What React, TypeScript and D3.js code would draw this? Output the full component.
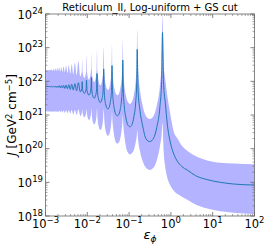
import React from "react";
import * as d3 from "d3";

// log10(epsilon_phi)
const logEps = [
  -3.0, -2.957, -2.94, -2.923, -2.906, -2.888, -2.869, -2.849, -2.829, -2.809,
  -2.788, -2.766, -2.743, -2.72, -2.696, -2.672, -2.647, -2.622, -2.595, -2.567,
  -2.537, -2.507, -2.475, -2.443, -2.408, -2.373, -2.335, -2.297, -2.255, -2.213,
  -2.168, -2.131, -2.122, -2.112, -2.071, -2.029, -2.019, -2.007, -1.961, -1.929,
  -1.911, -1.902, -1.892, -1.872, -1.835, -1.798, -1.778, -1.768, -1.756, -1.732,
  -1.688, -1.644, -1.62, -1.608, -1.593, -1.563, -1.509, -1.479, -1.454, -1.429,
  -1.416, -1.409, -1.4, -1.383, -1.351, -1.319, -1.28, -1.241, -1.209, -1.177,
  -1.16, -1.151, -1.139, -1.117, -1.075, -1.032, -0.981, -0.929, -0.885, -0.841,
  -0.818, -0.806, -0.785, -0.746, -0.671, -0.595, -0.505, -0.414, -0.338, -0.262,
  -0.222, -0.201, -0.177, -0.129, -0.089, -0.01, 0.069, 0.158, 0.254, 0.397,
  0.589, 0.868, 1.187, 1.498, 2.0,
];

// log10(J) median
const logJMid = [
  21.84, 21.85, 21.84, 21.85, 21.84, 21.85, 21.83, 21.85, 21.83, 21.85,
  21.83, 21.86, 21.82, 21.86, 21.82, 21.87, 21.81, 21.87, 21.8, 21.88,
  21.79, 21.89, 21.78, 21.9, 21.76, 21.91, 21.74, 21.93, 21.72, 21.96,
  21.69, 21.78, 21.99, 21.75, 21.64, 21.76, 22.04, 21.73, 21.59, 21.66,
  21.8, 22.12, 21.75, 21.58, 21.5, 21.59, 21.79, 22.23, 21.71, 21.48,
  21.37, 21.5, 21.77, 22.37, 21.66, 21.33, 21.18, 21.22, 21.35, 21.59,
  21.89, 22.47, 21.8, 21.46, 21.17, 21.02, 20.98, 21.03, 21.19, 21.51,
  21.89, 22.63, 21.74, 21.28, 20.91, 20.71, 20.65, 20.72, 20.95, 21.39,
  21.92, 22.95, 21.72, 21.2, 20.65, 20.29, 20.21, 20.31, 20.63, 21.25,
  21.99, 23.45, 22.0, 21.3, 20.76, 20.17, 19.84, 19.62, 19.48, 19.36,
  19.2, 19.08, 19.0, 18.95, 18.92,
];

// log10(J) upper edge of band
const logJHi = [
  22.32, 22.33, 22.32, 22.34, 22.32, 22.35, 22.32, 22.36, 22.31, 22.37,
  22.31, 22.39, 22.3, 22.4, 22.3, 22.41, 22.29, 22.42, 22.28, 22.44,
  22.27, 22.46, 22.25, 22.48, 22.23, 22.51, 22.21, 22.55, 22.18, 22.6,
  22.15, 22.3, 22.65, 22.27, 22.1, 22.3, 22.78, 22.27, 22.05, 22.15,
  22.37, 22.85, 22.33, 22.09, 21.98, 22.1, 22.36, 22.93, 22.3, 22.02,
  21.88, 22.03, 22.34, 23.03, 22.26, 21.91, 21.74, 21.78, 21.92, 22.18,
  22.49, 23.1, 22.42, 22.07, 21.79, 21.64, 21.59, 21.64, 21.8, 22.11,
  22.48, 23.21, 22.36, 21.93, 21.57, 21.39, 21.33, 21.4, 21.61, 22.03,
  22.53, 23.52, 22.33, 21.8, 21.25, 20.96, 20.88, 20.97, 21.28, 21.87,
  22.58, 23.97, 22.6, 22.0, 21.6, 21.0, 20.5, 20.3, 20.1, 19.93,
  19.78, 19.65, 19.58, 19.56, 19.54,
];

// log10(J) lower edge of band
const logJLo = [
  21.1, 21.11, 21.1, 21.11, 21.1, 21.11, 21.09, 21.11, 21.09, 21.12,
  21.09, 21.12, 21.09, 21.12, 21.08, 21.13, 21.08, 21.13, 21.07, 21.13,
  21.06, 21.14, 21.05, 21.14, 21.04, 21.15, 21.02, 21.15, 21.0, 21.16,
  20.97, 21.07, 21.17, 21.05, 20.93, 21.06, 21.18, 21.02, 20.85, 20.92,
  21.06, 21.2, 21.01, 20.82, 20.72, 20.82, 21.01, 21.2, 20.94, 20.68,
  20.55, 20.67, 20.92, 21.17, 20.85, 20.54, 20.38, 20.42, 20.52, 20.74,
  20.92, 21.1, 20.86, 20.63, 20.34, 20.2, 20.15, 20.19, 20.32, 20.58,
  20.79, 21.0, 20.71, 20.42, 20.06, 19.89, 19.83, 19.87, 19.97, 20.19,
  20.37, 20.55, 20.26, 19.96, 19.61, 19.43, 19.37, 19.44, 19.65, 20.07,
  20.41, 20.76, 20.0, 19.4, 19.15, 18.9, 18.75, 18.65, 18.58, 18.48,
  18.34, 18.22, 18.14, 18.1, 18.06,
];

const xTickExps = [-3, -2, -1, 0, 1, 2];
const yTickExps = [18, 19, 20, 21, 22, 23, 24];

const titleText = "Reticulum_II, Log-uniform + GS cut";

const W = 267;
const H = 248;
const left = 45.5;
const right = 254.5;
const top = 14;
const bottom = 216;

export default function App() {
  const x = d3.scaleLog().domain([1e-3, 1e2]).range([left, right]);
  const y = d3.scaleLog().domain([1e18, 1e24]).range([bottom, top]);

  const pts = logEps.map((e, i) => ({
    e: Math.pow(10, e),
    m: Math.pow(10, logJMid[i]),
    h: Math.pow(10, logJHi[i]),
    l: Math.pow(10, logJLo[i]),
  }));

  const area = d3
    .area<any>()
    .x((d) => x(d.e))
    .y0((d) => y(d.l))
    .y1((d) => y(d.h))
    .curve(d3.curveMonotoneX);
  const line = d3
    .line<any>()
    .x((d) => x(d.e))
    .y((d) => y(d.m))
    .curve(d3.curveMonotoneX);

  const xMinor: number[] = [];
  for (let p = -3; p < 2; p++) for (let k = 2; k <= 9; k++) xMinor.push(k * Math.pow(10, p));
  const yMinor: number[] = [];
  for (let p = 18; p < 24; p++) for (let k = 2; k <= 9; k++) yMinor.push(k * Math.pow(10, p));

  const frame = "#666";
  const font = "DejaVu Sans, sans-serif";

  return (
    <svg
      width={W}
      height={H}
      style={{ position: "absolute", left: 0, top: 0, background: "#fff" }}
      fontFamily={font}
    >
      <defs>
        <clipPath id="plotclip">
          <rect x={left} y={top} width={right - left} height={bottom - top} />
        </clipPath>
      </defs>
      <g clipPath="url(#plotclip)">
        <path d={area(pts) || ""} fill="#b3b3ff" stroke="none" />
        <path d={line(pts) || ""} fill="none" stroke="#1f77b4" strokeWidth={1} />
      </g>
      {/* minor ticks */}
      {xMinor.map((v, i) => (
        <g key={"xm" + i} stroke={frame} strokeWidth={0.6}>
          <line x1={x(v)} x2={x(v)} y1={bottom} y2={bottom - 2} />
          <line x1={x(v)} x2={x(v)} y1={top} y2={top + 2} />
        </g>
      ))}
      {yMinor.map((v, i) => (
        <g key={"ym" + i} stroke={frame} strokeWidth={0.6}>
          <line x1={left} x2={left + 2} y1={y(v)} y2={y(v)} />
          <line x1={right} x2={right - 2} y1={y(v)} y2={y(v)} />
        </g>
      ))}
      {xTickExps.map((p) => (
        <g key={"xt" + p} stroke={frame} strokeWidth={0.8}>
          <line x1={x(Math.pow(10, p))} x2={x(Math.pow(10, p))} y1={bottom} y2={bottom - 4} />
          <line x1={x(Math.pow(10, p))} x2={x(Math.pow(10, p))} y1={top} y2={top + 4} />
        </g>
      ))}
      {yTickExps.map((p) => (
        <g key={"yt" + p} stroke={frame} strokeWidth={0.8}>
          <line x1={left} x2={left + 4} y1={y(Math.pow(10, p))} y2={y(Math.pow(10, p))} />
          <line x1={right} x2={right - 4} y1={y(Math.pow(10, p))} y2={y(Math.pow(10, p))} />
        </g>
      ))}
      <rect
        x={left}
        y={top}
        width={right - left}
        height={bottom - top}
        fill="none"
        stroke={frame}
        strokeWidth={0.8}
      />
      {/* x tick labels */}
      {xTickExps.map((p) => (
        <text
          key={"xl" + p}
          x={x(Math.pow(10, p))}
          y={228}
          textAnchor="middle"
          fontSize={11.5}
          fill="#000"
        >
          10
          <tspan dy={-5} fontSize={8.5}>
            {p < 0 ? "\u2212" + Math.abs(p) : String(p)}
          </tspan>
        </text>
      ))}
      {/* y tick labels */}
      {yTickExps.map((p) => (
        <text
          key={"yl" + p}
          x={43}
          y={y(Math.pow(10, p)) + 4.5}
          textAnchor="end"
          fontSize={11.5}
          fill="#000"
        >
          10
          <tspan dy={-5} fontSize={8.5}>
            {String(p)}
          </tspan>
        </text>
      ))}
      <text x={(left + right) / 2} y={10.5} textAnchor="middle" fontSize={10} fill="#000">
        {titleText}
      </text>
      <text
        transform={`translate(16,${(top + bottom) / 2}) rotate(-90)`}
        textAnchor="middle"
        fontSize={12}
        fill="#000"
      >
        <tspan fontStyle="italic">J</tspan>
        {" [GeV"}
        <tspan dy={-4} fontSize={8.5}>2</tspan>
        <tspan dy={4}>{" cm"}</tspan>
        <tspan dy={-4} fontSize={8.5}>{"\u22125"}</tspan>
        <tspan dy={4}>{"]"}</tspan>
      </text>
      <text x={(left + right) / 2} y={239} textAnchor="middle" fontSize={13} fill="#000">
        <tspan fontStyle="italic">{"\u03b5"}</tspan>
        <tspan dy={3} fontSize={9} fontStyle="italic">
          {"\u03d5"}
        </tspan>
      </text>
    </svg>
  );
}
